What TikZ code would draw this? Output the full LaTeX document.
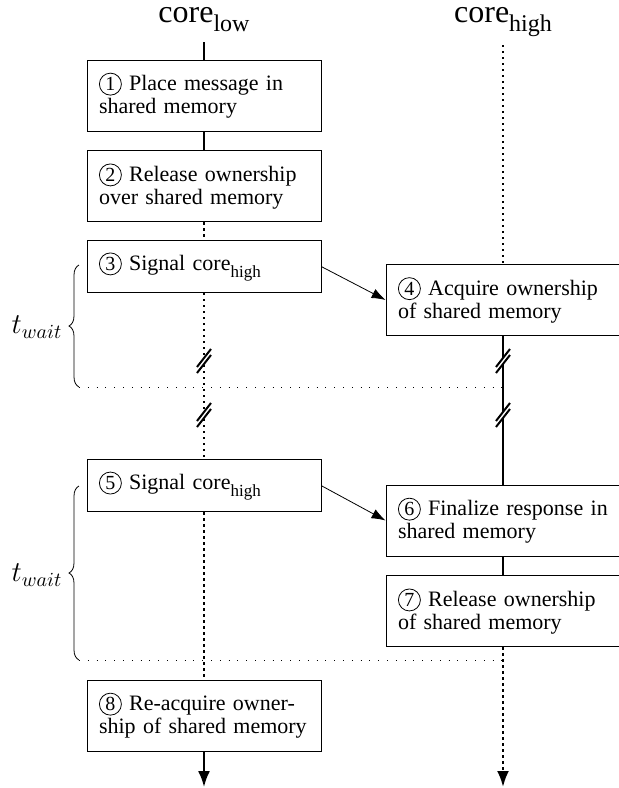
\documentclass[tikz,border=0pt]{standalone}
\usepackage{fontspec}
\setmainfont{Liberation Serif}
\usepackage{amsmath}
\usepackage{tikz}
\usetikzlibrary{arrows.meta, positioning, calc, decorations.pathreplacing}
\newcommand{\stepno}[1]{\tikz[baseline=(c.base)]\node[draw, circle, text width={}, align=center, inner sep=0.3pt, minimum size=11pt, font=\fontsize{10}{10}\selectfont] (c) {#1};}
\newcommand{\lowered}[2]{\raisebox{-0.3em}{\fontsize{#1}{#1}\selectfont #2}}
\tikzset{
  core/.style={font=\fontsize{16}{18}\selectfont, anchor=base},
  stepbox/.style={rectangle, draw=black, text width=105pt, align=left, inner xsep=6pt, inner ysep=0pt, minimum height=35.5pt, font=\fontsize{11}{11.4}\selectfont},
  shortbox/.style={stepbox, minimum height=26pt},
  active/.style={line width=1pt},
  idle/.style={line width=1.2pt, dash pattern=on 1.2pt off 1.8pt},
  lifeend/.style={-{Latex[length=8pt, width=6pt]}},
  signal/.style={-{Latex[length=7pt, width=5pt]}},
  waitline/.style={loosely dotted},
  waitbrace/.style={decorate, decoration={brace, amplitude=5pt}},
  waitlabel/.style={font=\Large},
}
\begin{document}
\begin{tikzpicture}[x=0.5pt, y=-0.5pt]
\useasboundingbox (0,0) rectangle (618,788);
\node[core] (low) at (204,22) {core\lowered{12}{low}};
\node[core] (high) at (503,22) {core\lowered{12}{high}};
\coordinate (lowtop) at (204,42);
\coordinate (lowend) at (204,787);
\coordinate (hightop) at (503,45);
\coordinate (highend) at (503,787);

\node[stepbox] (b1) at (204,95.5) {\stepno{1} Place message in\\shared memory};
\node[stepbox, below=9.5pt of b1] (b2) {\stepno{2} Release ownership\\over shared memory};
\node[shortbox, below=9pt of b2] (b3) {\stepno{3} Signal core\lowered{8.5}{high}};
\node[stepbox] (b4) at (503,300) {\stepno{4} Acquire ownership\\of shared memory};
\node[shortbox] (b5) at (204,485.7) {\stepno{5} Signal core\lowered{8.5}{high}};
\node[stepbox] (b6) at (503,520.5) {\stepno{6} Finalize response in\\shared memory};
\node[stepbox, below=9.5pt of b6] (b7) {\stepno{7} Release ownership\\of shared memory};
\node[stepbox] (b8) at (204,715.5) {\stepno{8} Re-acquire owner-\\ship of shared memory};

% lifelines
\draw[active] (lowtop) -- (b1);
\draw[active] (b1) -- (b2);
\draw[idle] (b2) -- (b3);
\draw[idle] (b3) -- (b5);
\draw[idle] (b5) -- (b8);
\draw[active, lifeend] (b8) -- (lowend);
\draw[idle] (hightop) -- (b4);
\draw[active] (b4) -- (b6);
\draw[active] (b6) -- (b7);
\draw[idle, lifeend] (b7) -- (highend);

% signals
\draw[signal] (b3.east) -- (b4.west);
\draw[signal] (b5.east) -- (b6.west);

% breaks
\foreach \x/\y in {204/361, 204/415, 503/361, 503/415} {
  \fill[white] (\x-3,\y-3) rectangle (\x+3,\y+3);
  \draw[line width=1pt] (\x-7,\y+6) -- (\x+7,\y-12);
  \draw[line width=1pt] (\x-7,\y+12) -- (\x+7,\y-6);
}

% waiting times
\coordinate (w1top) at (79,265);
\coordinate (w1bot) at (79,387);
\coordinate (w2top) at (79,486);
\coordinate (w2bot) at (79,660);
\draw[waitbrace] (w1bot) -- (w1top);
\draw[waitbrace] (w2bot) -- (w2top);
\draw[waitline] (w1bot) -- (w1bot -| b4);
\draw[waitline] (w2bot) -- (w2bot -| b4);
\node[waitlabel] (t1) at (37,327) {$t_{wait}$};
\node[waitlabel] (t2) at (37,575) {$t_{wait}$};
\end{tikzpicture}
\end{document}
